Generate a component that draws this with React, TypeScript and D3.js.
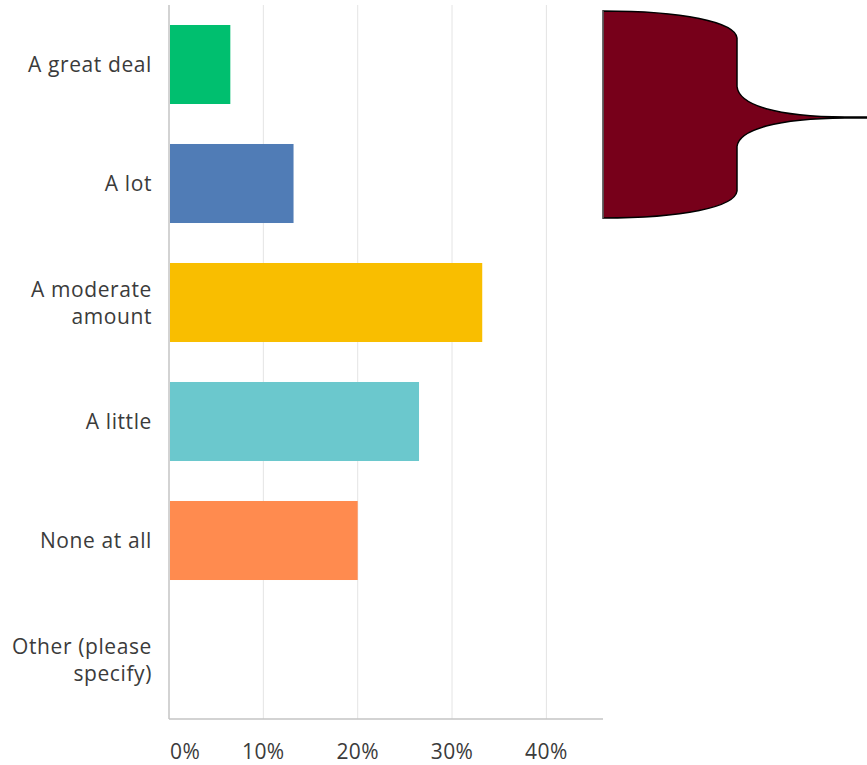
import React from "react";
import * as d3 from "d3";

const categories = [
  "A great deal",
  "A lot",
  "A moderate amount",
  "A little",
  "None at all",
  "Other (please specify)",
];
const labelLines = [
  ["A great deal"],
  ["A lot"],
  ["A moderate", "amount"],
  ["A little"],
  ["None at all"],
  ["Other (please", "specify)"],
];
const values = [6.5, 13.2, 33.2, 26.5, 20.0, 0];
const colors = ["#00BF6F", "#507CB6", "#F9BE00", "#6BC8CD", "#FF8B4F", "#9D61A6"];
const ticks = [0, 10, 20, 30, 40];

const W = 867;
const H = 765;
const FONT = "'Open Sans', sans-serif";

export default function App() {
  const x = d3.scaleLinear().domain([0, 46]).range([169, 603]);
  const y = d3
    .scaleBand<string>()
    .domain(categories)
    .range([5, 719])
    .paddingInner(0.336)
    .paddingOuter(0.168);

  const lineGap = 27;

  // brace annotation shape
  const bx0 = 603, bx1 = 737, tipX = 867, tipY = 117.5;
  const top = 11, bot = 218;
  const brace = [
    `M${bx0},${top}`,
    `C${bx0 + 80},${top} ${bx1 - 2},${top + 11} ${bx1},${top + 27}`,
    `L${bx1},${tipY - 31}`,
    `C${bx1 + 2},${tipY - 12} ${bx1 + 40},${tipY - 1} ${tipX - 22},${tipY - 0.5}`,
    `L${tipX},${tipY - 0.5}`,
    `L${tipX},${tipY + 0.5}`,
    `L${tipX - 22},${tipY + 0.5}`,
    `C${bx1 + 40},${tipY + 1} ${bx1 + 2},${tipY + 12} ${bx1},${tipY + 29}`,
    `L${bx1},${bot - 27}`,
    `C${bx1 - 2},${bot - 11} ${bx0 + 80},${bot} ${bx0},${bot}`,
    "Z",
  ].join(" ");

  return (
    <svg
      width={W}
      height={H}
      style={{ position: "absolute", left: 0, top: 0, background: "#fff" }}
      fontFamily={FONT}
    >
      {/* gridlines */}
      {ticks.slice(1).map((t) => (
        <line
          key={t}
          x1={x(t)}
          x2={x(t)}
          y1={5}
          y2={719}
          stroke="#e4e4e4"
          strokeWidth={1}
        />
      ))}
      {/* bars */}
      {categories.map((c, i) => (
        <rect
          key={c}
          x={x(0) + 1}
          y={y(c)}
          width={Math.max(0, x(values[i]) - x(0) - 1)}
          height={y.bandwidth()}
          fill={colors[i]}
        />
      ))}
      {/* axes */}
      <line x1={x(0)} x2={x(0)} y1={5} y2={719} stroke="#c4c4c4" strokeWidth={1.5} />
      <line x1={x(0)} x2={603} y1={719} y2={719} stroke="#c4c4c4" strokeWidth={1.5} />
      {/* category labels */}
      {categories.map((c, i) => {
        const cy = (y(c) as number) + y.bandwidth() / 2;
        const lines = labelLines[i];
        const startY = cy + 7.5 - ((lines.length - 1) * lineGap) / 2;
        return (
          <text
            key={c}
            textAnchor="end"
            fontSize={21}
            letterSpacing={0.6}
            fill="#3b3b3b"
          >
            {lines.map((l, j) => (
              <tspan key={j} x={152} y={startY + j * lineGap}>
                {l}
              </tspan>
            ))}
          </text>
        );
      })}
      {/* tick labels */}
      {ticks.map((t, i) => (
        <text
          key={t}
          x={i === 0 ? x(t) + 1 : x(t)}
          y={759}
          textAnchor={i === 0 ? "start" : "middle"}
          fontSize={21}
          letterSpacing={0.4}
          fill="#3b3b3b"
        >
          {`${t}%`}
        </text>
      ))}
      {/* brace annotation */}
      <path d={brace} fill="#77001A" stroke="#000" strokeWidth={1.5} />
      <line x1={bx0} x2={bx0} y1={top} y2={bot} stroke="#999" strokeWidth={1} />
    </svg>
  );
}
